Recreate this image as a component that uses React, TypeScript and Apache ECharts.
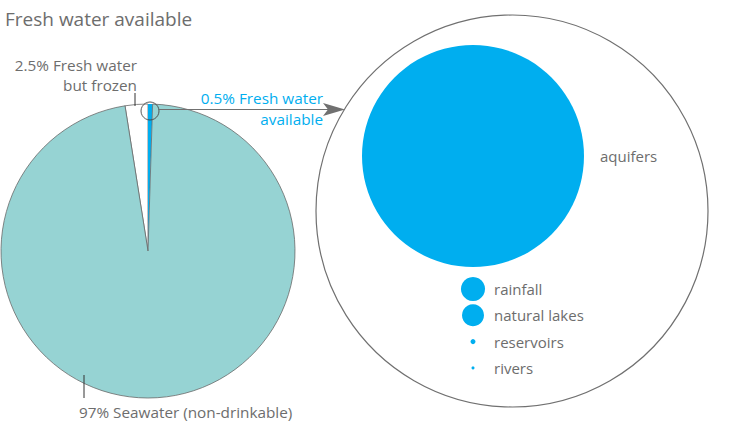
import React, { useEffect, useRef } from "react";
import * as echarts from "echarts";

// ---- data ----
const titleText = "Fresh water available";
const pieNames = ["2.5% Fresh water\nbut frozen", "0.5% Fresh water\navailable", "97% Seawater (non-drinkable)"];
const pieValues = [2.5, 0.5, 97];
const pieColors = ["#ffffff", "#00aeef", "#96d3d3"];

const freshNames = ["aquifers", "rainfall", "natural lakes", "reservoirs", "rivers"];
const freshValues = [97.8, 1.15, 0.96, 0.05, 0.018];

const FONT = "'Open Sans', 'Noto Sans', sans-serif";
const TEXT = "#6d6d6d";
const BLUE = "#00aeef";
const LINE = "#707070";

export default function App() {
  const ref = useRef<HTMLDivElement>(null);
  useEffect(() => {
    if (!ref.current) return;
    const chart = echarts.init(ref.current, undefined, { renderer: "svg" });

    // bubble sizes: area proportional to value
    const maxV = Math.max(...freshValues);
    const MAX_R = 111;
    const radii = freshValues.map((v) => Math.sqrt(v / maxV) * MAX_R);
    const FIRST_GAP = 133;
    const ROW = 26.3;
    const LABEL_DX_BIG = 16;
    const LABEL_DX_SMALL = 21;
    const bubbleData = freshNames.map((n, i) => ({
      name: n,
      value: [0, i === 0 ? 0 : FIRST_GAP + (i - 1) * ROW],
      symbolSize: radii[i] * 2,
      label: {
        distance: i === 0 ? LABEL_DX_BIG : LABEL_DX_SMALL - radii[i],
      },
    }));

    const pieCenter = [148, 251];
    const pieR = 147;

    chart.setOption({
      animation: false,
      backgroundColor: "#ffffff",
      title: {
        text: titleText,
        left: 0,
        top: 4,
        textStyle: { fontFamily: FONT, fontSize: 19, fontWeight: "normal", color: TEXT },
      },
      grid: { left: 472, width: 2, top: 156, height: FIRST_GAP + 3 * ROW },
      xAxis: { type: "value", min: -1, max: 1, show: false },
      yAxis: { type: "value", inverse: true, min: 0, max: FIRST_GAP + 3 * ROW, show: false },
      series: [
        {
          type: "pie",
          center: pieCenter,
          radius: pieR,
          startAngle: 99,
          clockwise: true,
          silent: true,
          label: { show: false },
          labelLine: { show: false },
          emphasis: { disabled: true },
          data: pieNames.map((n, i) => ({
            name: n,
            value: pieValues[i],
            itemStyle: {
              color: pieColors[i],
              borderColor: i === 1 ? pieColors[i] : "#6a6a6a",
              borderWidth: i === 1 ? 0 : 0.8,
            },
          })),
        },
        {
          type: "scatter",
          symbol: "circle",
          silent: true,
          itemStyle: { color: BLUE, opacity: 1 },
          label: {
            show: true,
            position: "right",
            formatter: "{b}",
            fontFamily: FONT,
            fontSize: 15,
            color: TEXT,
          },
          data: bubbleData,
        },
      ],
      graphic: [
        { type: "circle", shape: { cx: 512, cy: 211, r: 196 }, style: { fill: "none", stroke: LINE, lineWidth: 1.2 }, silent: true },
        { type: "circle", shape: { cx: 150, cy: 111, r: 9 }, style: { fill: "none", stroke: "#444", lineWidth: 0.9 }, silent: true, z: 10 },
        { type: "line", shape: { x1: 159, y1: 109.5, x2: 335, y2: 109.5 }, style: { stroke: LINE, lineWidth: 1.2 }, silent: true, z: 10 },
        { type: "polygon", shape: { points: [[345, 109.5], [323, 103], [328, 109.5], [323, 116]] }, style: { fill: LINE }, silent: true, z: 10 },
        { type: "line", shape: { x1: 135, y1: 93, x2: 135, y2: 106 }, style: { stroke: "#333", lineWidth: 1 }, silent: true, z: 10 },
        { type: "line", shape: { x1: 84, y1: 375, x2: 84, y2: 398 }, style: { stroke: "#333", lineWidth: 1 }, silent: true, z: 10 },
        {
          type: "text", x: 137, y: 75, silent: true,
          style: { text: pieNames[0], fill: TEXT, font: `15.3px ${FONT}`, align: "right", verticalAlign: "middle", lineHeight: 20 },
        },
        {
          type: "text", x: 323, y: 108, silent: true,
          style: { text: pieNames[1], fill: BLUE, font: `15.3px ${FONT}`, align: "right", verticalAlign: "middle", lineHeight: 21 },
        },
        {
          type: "text", x: 79, y: 412, silent: true,
          style: { text: pieNames[2], fill: TEXT, font: `15.3px ${FONT}`, align: "left", verticalAlign: "middle" },
        },
      ],
    });
    return () => chart.dispose();
  }, []);
  return <div ref={ref} style={{ position: "fixed", left: 0, top: 0, width: 732, height: 429 }} />;
}
